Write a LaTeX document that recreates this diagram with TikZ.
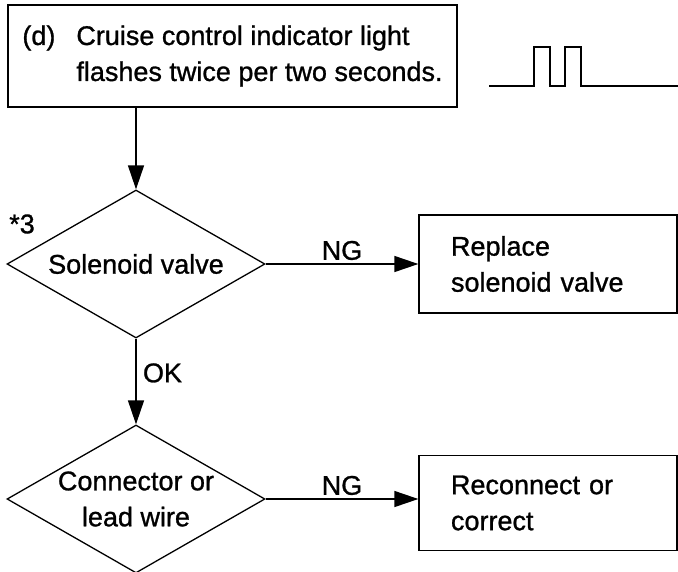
\documentclass[tikz,border=0pt]{standalone}
\usepackage{fontspec}
\setmainfont{Liberation Sans}[UprightFeatures={FakeBold=1}]
\usetikzlibrary{arrows.meta,positioning,shapes.geometric}

\tikzset{
  box/.style={draw, rectangle, inner xsep=32pt, inner ysep=0pt, text width=194pt, align=left},
  dec/.style={draw, diamond, aspect=1.74, inner sep=0pt, minimum width=258pt, minimum height=148pt, align=center},
}

\begin{document}
\begin{tikzpicture}[x=1pt,y=-1pt,node distance=412pt,on grid,line width=1.3pt,
    font=\fontsize{27}{36}\selectfont,>={Triangle[length=24pt,width=16pt]}]
  \useasboundingbox (0,0) rectangle (678,571);
  \node[draw, align=left, minimum width=449pt, minimum height=102pt] (start) at (232.5,56)
    {\makebox[54pt][l]{(d)}Cruise control indicator light\\\hspace*{54pt}flashes twice per two seconds.};
  \node[dec] (sol) at (136,264) {Solenoid valve};
  \node[box, minimum height=98pt] (repl) [right=of sol] {Replace\\solenoid valve};
  \node[dec] (conn) [below=235pt of sol] {Connector or\\lead wire};
  \node[box, minimum height=95pt] (reco) [right=of conn, yshift=-4pt] {Reconnect or\\correct};
  \node (mark) at (22,224) {*3};
  % pulse: two flashes
  \draw (489,86) -- ++(45,0) -- ++(0,-39) -- ++(16,0) -- ++(0,39) -- ++(15,0)
    -- ++(0,-39) -- ++(16,0) -- ++(0,39) -- (678,86);
  \path[->]
    (start.south -| sol.north) edge (sol.north)
    (sol.east) edge node[above] {NG} (repl.west)
    (sol.south) edge node[right=3pt,pos=0.4] {OK} (conn.north)
    (conn.east) edge node[above] {NG} (conn.east -| reco.west);
\end{tikzpicture}
\end{document}
